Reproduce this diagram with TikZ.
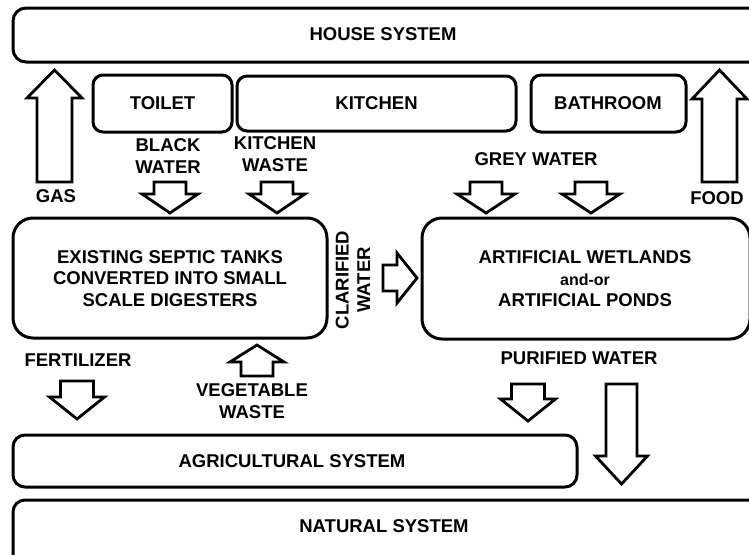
\documentclass[tikz,border=0pt]{standalone}
\usepackage{fontspec}
\setmainfont{Liberation Sans}
\newcommand\myvarrow[6]{% center x, tail y, head base y, tip y, shaft half, head half
  \draw[blk] ({#1-#5},#2) -- ({#1+#5},#2) -- ({#1+#5},#3) -- ({#1+#6},#3) -- (#1,#4) -- ({#1-#6},#3) -- ({#1-#5},#3) -- cycle;}
\begin{document}
\begin{tikzpicture}[x=1pt,y=-1pt,
  box/.style={draw, line width=3pt, rounded corners=#1},
  box/.default=12pt,
  blk/.style={draw, fill=white, line width=2.8pt, line join=miter},
  lbl/.style={font=\bfseries\fontsize{18.5}{21.5}\selectfont, align=center, inner sep=0pt},
  small/.style={font=\bfseries\fontsize{17}{21.5}\selectfont, align=center, inner sep=0pt}]
\useasboundingbox (0,0) rectangle (749,554);
\clip (0,0) rectangle (749,554);
\fill[white] (0,0) rectangle (749,554);
% boxes
\draw[box=13pt] (13,8) rectangle (765,62);
\node[lbl] (house) at (383,34) {HOUSE SYSTEM};
\draw[box=10pt] (93,75) rectangle (232,132);
\node[lbl] (toilet) at (162.5,103.5) {TOILET};
\draw[box=10pt] (237,76) rectangle (516,131);
\node[lbl] (kitchen) at (376.5,103.5) {KITCHEN};
\draw[box=10pt] (531,75) rectangle (686,132);
\node[lbl] (bath) at (608,103.5) {BATHROOM};
\draw[box=20pt] (13,218) rectangle (327,338);
\node[lbl] (septic) at (170,278.5) {EXISTING SEPTIC TANKS\\CONVERTED INTO SMALL\\SCALE DIGESTERS};
\draw[box=20pt] (422,218) rectangle (750,339);
\node[lbl] (wet) at (585,279) {ARTIFICIAL WETLANDS\\{\fontsize{16}{21.5}\selectfont and-or}\\ARTIFICIAL PONDS};
\draw[box=12pt] (13,435) rectangle (577,487);
\node[lbl] (agri) at (292,461) {AGRICULTURAL SYSTEM};
\draw[box=12pt] (13,500) rectangle (765,580);
\node[lbl] (nat) at (384,526) {NATURAL SYSTEM};
% labels
\node[lbl] (gas) at (56,196.5) {GAS};
\node[lbl] (food) at (717,198) {FOOD};
\node[lbl] (bw) at (168,156) {BLACK\\WATER};
\node[lbl] (kw) at (275,154) {KITCHEN\\WASTE};
\node[lbl] (gw) at (536,159) {GREY WATER};
\node[lbl, rotate=90] (cw) at (353,280) {CLARIFIED\\WATER};
\node[lbl] (fert) at (78,360) {FERTILIZER};
\node[lbl] (veg) at (252,401) {VEGETABLE\\WASTE};
\node[lbl] (pw) at (579,358) {PURIFIED WATER};
% block arrows
\myvarrow{54.5}{182}{98}{70}{17.5}{27.5}
\myvarrow{719.5}{182}{99}{70}{17.5}{27.5}
\myvarrow{170}{182}{194}{213}{16}{28}
\myvarrow{277}{182}{194}{213}{16}{28}
\myvarrow{486}{182}{194}{213}{16}{29}
\myvarrow{591}{182}{194}{213}{16}{29}
\myvarrow{257}{376}{362}{345}{16}{27}
\myvarrow{77}{381}{397}{419}{16.5}{27.5}
\myvarrow{528}{384}{399}{421}{16.5}{27.5}
\myvarrow{621.5}{384}{456}{484}{15.5}{26}
\draw[blk] (383,265) -- (397,265) -- (397,253) -- (417,278) -- (397,303) -- (397,291) -- (383,291) -- cycle;
\end{tikzpicture}
\end{document}
